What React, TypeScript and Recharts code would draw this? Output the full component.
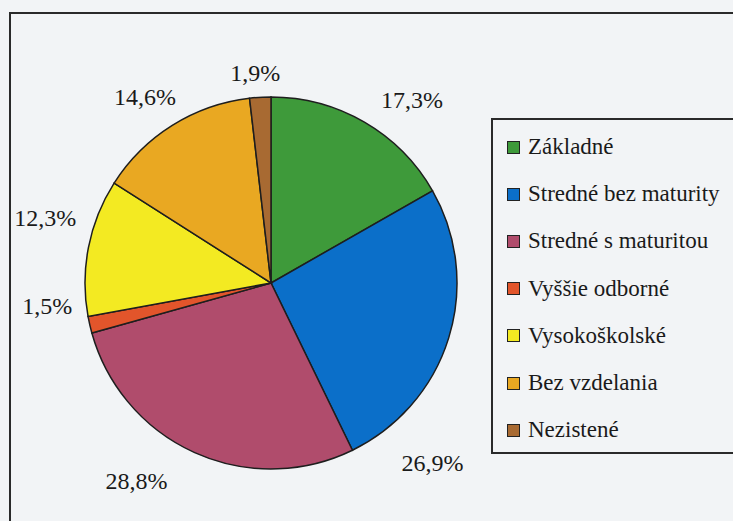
import React from 'react';
import { PieChart, Pie, Cell } from 'recharts';

// education levels, shares in % as printed on the chart
const categories = [
  'Základné',
  'Stredné bez maturity',
  'Stredné s maturitou',
  'Vyššie odborné',
  'Vysokoškolské',
  'Bez vzdelania',
  'Nezistené',
];
const shares = [17.3, 26.9, 28.8, 1.5, 12.3, 14.6, 1.9];
const shareLabels = ['17,3%', '26,9%', '28,8%', '1,5%', '12,3%', '14,6%', '1,9%'];

const colors = ['#3e9a3a', '#0b6fc9', '#b04c6c', '#e2552b', '#f3ea22', '#e9a822', '#a86a32'];

// label placement tweaks (clockwise degrees, extra radius) like the original layout
const labelShift = [7.5, 31, 10, 7, 5, -2, -1];
const labelGap = [45, 56, 53, 39, 49, 39, 25];

const data = categories.map((name, i) => ({ name, value: shares[i], label: shareLabels[i] }));

const RAD = Math.PI / 180;
const FONT = "'Liberation Serif', 'DejaVu Serif', Tinos, serif";

const renderLabel = (props: any) => {
  const { cx, cy, midAngle, outerRadius, index } = props;
  const a = (midAngle - labelShift[index]) * RAD;
  const r = outerRadius + labelGap[index];
  const x = cx + r * Math.cos(a);
  const y = cy - r * Math.sin(a);
  return (
    <text
      x={x}
      y={y}
      textAnchor="middle"
      dominantBaseline="central"
      fill="#1a1a1a"
      fontFamily={FONT}
      fontSize={24}
    >
      {data[index].label}
    </text>
  );
};

export default function App() {
  return (
    <div
      style={{
        position: 'fixed',
        left: 0,
        top: 0,
        width: 733,
        height: 521,
        background: '#f2f4f6',
        overflow: 'hidden',
        fontFamily: FONT,
      }}
    >
      <div
        style={{
          position: 'absolute',
          left: 9,
          top: 12,
          width: 740,
          height: 530,
          border: '2px solid #2a2a2a',
        }}
      />
      <div style={{ position: 'absolute', left: 0, top: 0 }}>
        <PieChart width={733} height={521} margin={{ top: 0, right: 0, bottom: 0, left: 0 }}>
          <Pie
            data={data}
            dataKey="value"
            nameKey="name"
            cx={271}
            cy={283}
            outerRadius={186}
            startAngle={90}
            endAngle={-270}
            stroke="#1e1e1e"
            strokeWidth={1.5}
            label={renderLabel}
            labelLine={false}
            isAnimationActive={false}
          >
            {data.map((d, i) => (
              <Cell key={d.name} fill={colors[i]} />
            ))}
          </Pie>
        </PieChart>
      </div>
      <div
        style={{
          position: 'absolute',
          left: 491,
          top: 118,
          width: 260,
          height: 332,
          border: '2px solid #2a2a2a',
          background: '#f2f4f6',
        }}
      >
        {categories.map((name, i) => (
          <div
            key={name}
            style={{
              position: 'absolute',
              left: 14,
              top: 27 + i * 47.2 - 15,
              height: 30,
              display: 'flex',
              alignItems: 'center',
              whiteSpace: 'nowrap',
            }}
          >
            <span
              style={{
                display: 'inline-block',
                width: 11,
                height: 11,
                background: colors[i],
                border: '1.5px solid #222',
                marginRight: 8,
              }}
            />
            <span style={{ fontSize: 23, color: '#1a1a1a' }}>{name}</span>
          </div>
        ))}
      </div>
    </div>
  );
}
